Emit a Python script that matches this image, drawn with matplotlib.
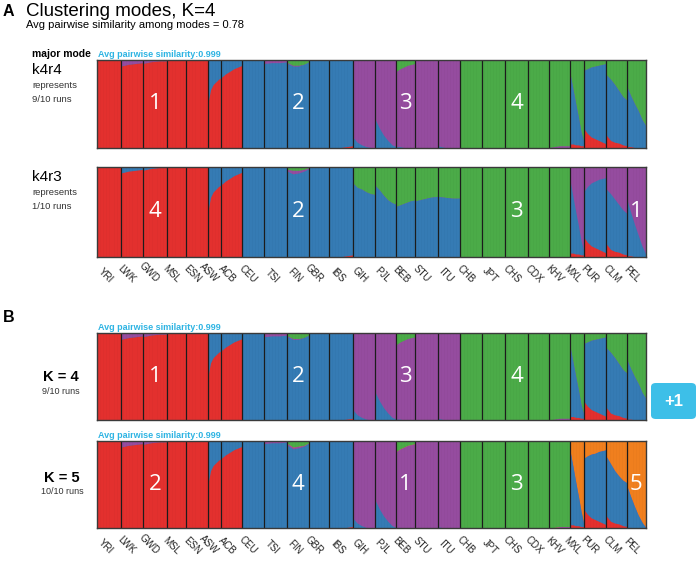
import matplotlib
matplotlib.use('Agg')
import matplotlib.pyplot as plt
from matplotlib.patches import FancyBboxPatch
import numpy as np

plt.rcParams['font.family'] = ['Liberation Sans', 'DejaVu Sans']

# ---------------- data ----------------
POPS = ['YRI', 'LWK', 'GWD', 'MSL', 'ESN', 'ASW', 'ACB', 'CEU', 'TSI', 'FIN', 'GBR', 'IBS',
        'GIH', 'PJL', 'BEB', 'STU', 'ITU', 'CHB', 'JPT', 'CHS', 'CDX', 'KHV',
        'MXL', 'PUR', 'CLM', 'PEL']
SIZES = [108, 99, 113, 85, 99, 61, 96, 99, 107, 99, 91, 107,
         103, 96, 86, 102, 102, 103, 104, 105, 93, 99,
         60, 104, 94, 85]

# K=4 cluster order (bottom -> top): red, blue, purple, green
COLORS4 = ['#E8312F', '#377EB8', '#984EA3', '#4DAF4A']
# K=5 cluster order (bottom -> top): red, blue, purple, orange, green
COLORS5 = ['#E8312F', '#377EB8', '#984EA3', '#F5821F', '#4DAF4A']

# major mode k4r4 (also K=4 in panel B); rows = sorted groups of individuals
MODE_K4R4 = {
    'YRI': [[1, 0, 0, 0]],
    'LWK': [[.93, 0, .07, 0], [.95, 0, .05, 0], [.96, 0, .04, 0], [.97, 0, .03, 0]],
    'GWD': [[.96, 0, .04, 0], [.98, 0, .02, 0], [.99, 0, .01, 0], [.99, 0, .01, 0]],
    'MSL': [[1, 0, 0, 0]],
    'ESN': [[1, 0, 0, 0]],
    'ASW': [[.50, .50, 0, 0], [.66, .34, 0, 0], [.72, .28, 0, 0], [.75, .25, 0, 0], [.78, .22, 0, 0], [.80, .20, 0, 0]],
    'ACB': [[.80, .20, 0, 0], [.84, .16, 0, 0], [.87, .13, 0, 0], [.90, .10, 0, 0], [.92, .08, 0, 0], [.94, .06, 0, 0]],
    'CEU': [[0, 1, 0, 0]],
    'TSI': [[0, .96, .04, 0], [0, .97, .03, 0], [0, .97, .03, 0], [0, .98, .02, 0]],
    'FIN': [[0, .96, .01, .03], [0, .93, .01, .06], [0, .93, .01, .06], [0, .95, 0, .05], [0, .98, 0, .02]],
    'GBR': [[0, 1, 0, 0]],
    'IBS': [[0, 1, 0, 0], [0, 1, 0, 0], [0, 1, 0, 0], [.01, .99, 0, 0], [.02, .98, 0, 0]],
    'GIH': [[0, .12, .88, 0], [0, .06, .94, 0], [0, .03, .97, 0], [0, .01, .99, 0], [0, 0, 1, 0], [0, 0, 1, 0]],
    'PJL': [[0, .32, .68, 0], [0, .22, .78, 0], [0, .14, .86, 0], [0, .08, .92, 0], [0, .03, .97, 0], [0, .01, .99, 0]],
    'BEB': [[0, .01, .86, .13], [0, .01, .89, .10], [0, 0, .92, .08], [0, 0, .94, .06], [0, 0, .95, .05], [0, 0, .96, .04]],
    'STU': [[0, 0, 1, 0]],
    'ITU': [[0, .02, .98, 0], [0, 0, 1, 0], [0, 0, 1, 0], [0, 0, 1, 0]],
    'CHB': [[0, 0, 0, 1]],
    'JPT': [[0, 0, 0, 1]],
    'CHS': [[0, 0, 0, 1]],
    'CDX': [[0, 0, 0, 1]],
    'KHV': [[0, 0, 0, 1], [0, 0, .02, .98], [0, 0, .02, .98]],
    'MXL': [[.04, .78, 0, .18], [.04, .62, 0, .34], [.03, .47, 0, .50], [.03, .32, 0, .65], [.02, .16, 0, .82], [.02, .05, 0, .93]],
    'PUR': [[.22, .66, 0, .12], [.16, .74, 0, .10], [.12, .80, 0, .08], [.10, .83, 0, .07], [.08, .86, 0, .06], [.06, .89, 0, .05], [.04, .92, 0, .04]],
    'CLM': [[.14, .69, 0, .17], [.08, .70, 0, .22], [.06, .66, 0, .28], [.05, .60, 0, .35], [.03, .55, 0, .42], [.02, .52, 0, .46]],
    'PEL': [[.01, .68, 0, .31], [.01, .58, 0, .41], [0, .50, 0, .50], [0, .42, 0, .58], [0, .32, 0, .68], [0, .25, 0, .75]],
}

# minor mode k4r3
MODE_K4R3 = {
    'YRI': [[1, 0, 0, 0]],
    'LWK': [[.93, .07, 0, 0], [.95, .05, 0, 0], [.96, .04, 0, 0], [.97, .03, 0, 0]],
    'GWD': [[.96, .04, 0, 0], [.98, .02, 0, 0], [.99, .01, 0, 0], [.99, .01, 0, 0]],
    'MSL': [[1, 0, 0, 0]],
    'ESN': [[1, 0, 0, 0]],
    'ASW': [[.50, .50, 0, 0], [.66, .34, 0, 0], [.72, .28, 0, 0], [.75, .25, 0, 0], [.78, .22, 0, 0], [.80, .20, 0, 0]],
    'ACB': [[.80, .20, 0, 0], [.84, .16, 0, 0], [.87, .13, 0, 0], [.90, .10, 0, 0], [.92, .08, 0, 0], [.94, .06, 0, 0]],
    'CEU': [[0, 1, 0, 0]],
    'TSI': [[0, 1, 0, 0]],
    'FIN': [[0, .95, .02, .03], [0, .92, .04, .04], [0, .93, .03, .04], [0, .95, .02, .03], [0, .98, .01, .01]],
    'GBR': [[0, 1, 0, 0]],
    'IBS': [[0, 1, 0, 0], [0, 1, 0, 0], [0, 1, 0, 0], [.01, .99, 0, 0], [.02, .98, 0, 0]],
    'GIH': [[0, .82, 0, .18], [0, .77, 0, .23], [0, .75, 0, .25], [0, .72, 0, .28], [0, .70, 0, .30], [0, .69, 0, .31]],
    'PJL': [[0, .79, 0, .21], [0, .74, 0, .26], [0, .68, 0, .32], [0, .63, 0, .37], [0, .60, 0, .40], [0, .58, 0, .42]],
    'BEB': [[0, .56, 0, .44], [0, .58, 0, .42], [0, .60, 0, .40], [0, .62, 0, .38], [0, .63, 0, .37]],
    'STU': [[0, .62, 0, .38], [0, .64, 0, .36], [0, .66, 0, .34], [0, .67, 0, .33]],
    'ITU': [[0, .67, 0, .33], [0, .66, 0, .34], [0, .65, 0, .35], [0, .65, 0, .35]],
    'CHB': [[0, 0, 0, 1]],
    'JPT': [[0, 0, 0, 1]],
    'CHS': [[0, 0, 0, 1]],
    'CDX': [[0, 0, 0, 1]],
    'KHV': [[0, 0, 0, 1]],
    'MXL': [[.04, .78, .18, 0], [.04, .62, .34, 0], [.03, .47, .50, 0], [.03, .32, .65, 0], [.02, .16, .82, 0], [.02, .05, .93, 0]],
    'PUR': [[.22, .50, .28, 0], [.16, .62, .22, 0], [.12, .70, .18, 0], [.10, .74, .16, 0], [.08, .78, .14, 0], [.06, .81, .13, 0], [.04, .84, .12, 0]],
    'CLM': [[.14, .61, .25, 0], [.08, .62, .30, 0], [.06, .58, .36, 0], [.05, .53, .42, 0], [.03, .49, .48, 0], [.02, .46, .52, 0]],
    'PEL': [[.01, .62, .37, 0], [.01, .48, .51, 0], [0, .36, .64, 0], [0, .24, .76, 0], [0, .12, .88, 0], [0, .03, .97, 0]],
}

# K=5 mode
MODE_K5 = {
    'YRI': [[1, 0, 0, 0, 0]],
    'LWK': [[.93, 0, .07, 0, 0], [.95, 0, .05, 0, 0], [.96, 0, .04, 0, 0], [.97, 0, .03, 0, 0]],
    'GWD': [[.96, 0, .04, 0, 0], [.98, 0, .02, 0, 0], [.99, 0, .01, 0, 0], [.99, 0, .01, 0, 0]],
    'MSL': [[1, 0, 0, 0, 0]],
    'ESN': [[1, 0, 0, 0, 0]],
    'ASW': [[.50, .50, 0, 0, 0], [.66, .34, 0, 0, 0], [.72, .28, 0, 0, 0], [.75, .25, 0, 0, 0], [.78, .22, 0, 0, 0], [.80, .20, 0, 0, 0]],
    'ACB': [[.80, .20, 0, 0, 0], [.84, .16, 0, 0, 0], [.87, .13, 0, 0, 0], [.90, .10, 0, 0, 0], [.92, .08, 0, 0, 0], [.94, .06, 0, 0, 0]],
    'CEU': [[0, 1, 0, 0, 0]],
    'TSI': [[0, .97, .03, 0, 0], [0, .98, .02, 0, 0], [0, .98, .02, 0, 0], [0, .99, .01, 0, 0]],
    'FIN': [[0, .95, .02, 0, .03], [0, .91, .02, 0, .07], [0, .92, .02, 0, .06], [0, .94, .01, 0, .05], [0, .98, 0, 0, .02]],
    'GBR': [[0, 1, 0, 0, 0]],
    'IBS': [[0, 1, 0, 0, 0], [0, 1, 0, 0, 0], [0, 1, 0, 0, 0], [.01, .99, 0, 0, 0], [.02, .98, 0, 0, 0]],
    'GIH': [[0, .12, .88, 0, 0], [0, .06, .94, 0, 0], [0, .03, .97, 0, 0], [0, .01, .99, 0, 0], [0, 0, 1, 0, 0], [0, 0, 1, 0, 0]],
    'PJL': [[0, .32, .68, 0, 0], [0, .22, .78, 0, 0], [0, .14, .86, 0, 0], [0, .08, .92, 0, 0], [0, .03, .97, 0, 0], [0, .01, .99, 0, 0]],
    'BEB': [[0, .01, .87, 0, .12], [0, .01, .90, 0, .09], [0, 0, .93, 0, .07], [0, 0, .95, 0, .05], [0, 0, .96, 0, .04], [0, 0, .97, 0, .03]],
    'STU': [[0, 0, 1, 0, 0]],
    'ITU': [[0, .02, .98, 0, 0], [0, 0, 1, 0, 0], [0, 0, 1, 0, 0], [0, 0, 1, 0, 0]],
    'CHB': [[0, 0, 0, 0, 1]],
    'JPT': [[0, 0, 0, 0, 1]],
    'CHS': [[0, 0, 0, 0, 1]],
    'CDX': [[0, 0, 0, 0, 1]],
    'KHV': [[0, 0, 0, 0, 1], [0, 0, .02, 0, .98], [0, 0, .02, 0, .98]],
    'MXL': [[.04, .82, 0, .14, 0], [.04, .66, 0, .30, 0], [.03, .50, 0, .47, 0], [.03, .34, 0, .63, 0], [.02, .18, 0, .80, 0], [.02, .04, 0, .94, 0]],
    'PUR': [[.22, .58, 0, .20, 0], [.16, .67, 0, .17, 0], [.12, .73, 0, .15, 0], [.10, .76, 0, .14, 0], [.08, .80, 0, .12, 0], [.06, .83, 0, .11, 0], [.04, .86, 0, .10, 0]],
    'CLM': [[.14, .68, 0, .18, 0], [.08, .66, 0, .26, 0], [.06, .60, 0, .34, 0], [.05, .55, 0, .40, 0], [.03, .52, 0, .45, 0], [.02, .50, 0, .48, 0]],
    'PEL': [[.01, .47, 0, .52, 0], [.01, .35, 0, .64, 0], [0, .25, 0, .75, 0], [0, .15, 0, .85, 0], [0, .07, 0, .93, 0], [0, .01, 0, .99, 0]],
}

NUMS_K4R4 = [('1', 'GWD'), ('2', 'FIN'), ('3', 'BEB'), ('4', 'CHS')]
NUMS_K4R3 = [('4', 'GWD'), ('2', 'FIN'), ('3', 'CHS'), ('1', 'PEL')]
NUMS_K5 = [('2', 'GWD'), ('4', 'FIN'), ('1', 'BEB'), ('3', 'CHS'), ('5', 'PEL')]

CYAN = '#2EB4E3'

# ---------------- drawing ----------------
W, H = 697, 562
fig = plt.figure(figsize=(W / 100, H / 100), dpi=100)


def add_row(top, bottom):
    left, right = 97.3, 645.7
    return fig.add_axes([left / W, 1 - bottom / H, (right - left) / W, (bottom - top) / H])


EDGES = np.concatenate([[0], np.cumsum(SIZES)])
CENTERS = dict(zip(POPS, (EDGES[:-1] + EDGES[1:]) / 2))


def draw_row(ax, data, colors, nums, labels=False):
    for i, pop in enumerate(POPS):
        x0, x1 = EDGES[i], EDGES[i + 1]
        segs = np.array(data[pop], float)
        segs = segs / segs.sum(axis=1, keepdims=True)
        if len(segs) == 1:
            segs = np.vstack([segs, segs])
        xs = np.linspace(x0, x1, len(segs))
        cum = np.cumsum(segs, axis=1)
        # paint from the top layer down so that no seams appear
        for k in range(len(colors) - 1, -1, -1):
            ax.fill_between(xs, 0, cum[:, k], color=colors[k], linewidth=0)
    # faint individual striping
    ax.vlines(np.arange(4, EDGES[-1], 7), 0, 1, color='black', lw=0.35, alpha=0.08)
    ax.vlines(EDGES[1:-1], 0, 1, color='#1c1c1c', lw=0.9)
    ax.set_xlim(0, EDGES[-1])
    ax.set_ylim(0, 1)
    ax.set_xticks([])
    ax.set_yticks([])
    for s in ax.spines.values():
        s.set_color('#3a3a3a')
        s.set_linewidth(1.0)
    for txt, pop in nums:
        ax.text(CENTERS[pop], 0.5, txt, color='white', fontsize=16, ha='center', va='center',
                family=['Open Sans', 'DejaVu Sans'])
    if labels:
        for pop in POPS:
            ax.annotate(pop, xy=(CENTERS[pop], 0), xycoords=('data', 'axes fraction'),
                        xytext=(1.5, -17.5), textcoords='offset points',
                        rotation=-45, ha='right', va='center', rotation_mode='anchor',
                        fontsize=7, color='#222222')


axA1 = add_row(60, 147.5)
draw_row(axA1, MODE_K4R4, COLORS4, NUMS_K4R4)
axA2 = add_row(166.7, 256.7)
draw_row(axA2, MODE_K4R3, COLORS4, NUMS_K4R3, labels=True)
axB1 = add_row(333.3, 420)
draw_row(axB1, MODE_K4R4, COLORS4, NUMS_K4R4)
axB2 = add_row(441, 528.3)
draw_row(axB2, MODE_K5, COLORS5, NUMS_K5, labels=True)


def t(x, y, s, **kw):
    fig.text(x / W, 1 - y / H, s, **kw)


# panel A header
t(3, 15.5, 'A', fontsize=11.5, fontweight='bold', va='baseline')
t(26, 15.5, 'Clustering modes, K=4', fontsize=13.5, va='baseline')
t(26, 27.5, 'Avg pairwise similarity among modes = 0.78', fontsize=8, va='baseline')
t(32, 57, 'major mode', fontsize=7.5, fontweight='bold', va='baseline')
t(98, 57, 'Avg pairwise similarity:0.999', fontsize=6.5, fontweight='bold', color=CYAN, va='baseline')

t(32, 74, 'k4r4', fontsize=11, va='baseline')
t(32, 88, 'represents', fontsize=6.8, va='baseline', color='#333333')
t(32, 101.5, '9/10 runs', fontsize=6.8, va='baseline', color='#333333')

t(32, 181, 'k4r3', fontsize=11, va='baseline')
t(32, 195, 'represents', fontsize=6.8, va='baseline', color='#333333')
t(32, 208.5, '1/10 runs', fontsize=6.8, va='baseline', color='#333333')

# panel B
t(3, 322.5, 'B', fontsize=11.5, fontweight='bold', va='baseline')
t(98, 330, 'Avg pairwise similarity:0.999', fontsize=6.5, fontweight='bold', color=CYAN, va='baseline')
t(98, 438, 'Avg pairwise similarity:0.999', fontsize=6.5, fontweight='bold', color=CYAN, va='baseline')

t(61, 381, 'K = 4', fontsize=10.5, fontweight='bold', ha='center', va='baseline')
t(61, 393.5, '9/10 runs', fontsize=6.5, ha='center', va='baseline', color='#333333')
t(62, 482, 'K = 5', fontsize=10.5, fontweight='bold', ha='center', va='baseline')
t(62, 494.5, '10/10 runs', fontsize=6.5, ha='center', va='baseline', color='#333333')

# "+1" badge
bx0, by0, bx1, by1 = 651, 383, 696, 419
badge = FancyBboxPatch((bx0 / W, 1 - by1 / H), (bx1 - bx0) / W, (by1 - by0) / H,
                       boxstyle='round,pad=0,rounding_size=0.007', transform=fig.transFigure,
                       facecolor='#3DBFE8', edgecolor='none')
fig.patches.append(badge)
t((bx0 + bx1) / 2, (by0 + by1) / 2, '+1', fontsize=12, fontweight='bold', color='white',
  ha='center', va='center')

fig.savefig('out.png', dpi=100)
